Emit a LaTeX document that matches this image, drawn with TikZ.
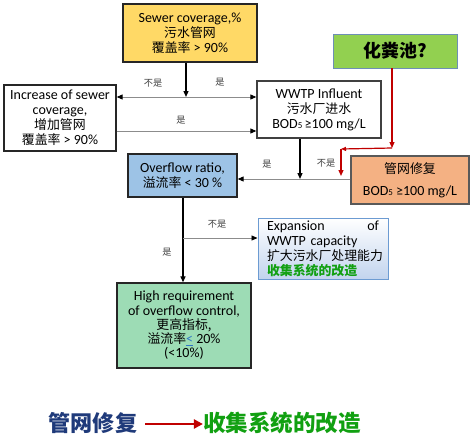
\documentclass[tikz,border=0pt]{standalone}
\usepackage{fontspec}
\setmainfont{Carlito}
\newfontfamily\cjk{Noto Sans CJK SC}[Scale=0.92]
\usetikzlibrary{arrows.meta}
\definecolor{cyellow}{HTML}{FFD966}
\definecolor{cgreenbox}{HTML}{92D050}
\definecolor{cgreenborder}{HTML}{6E8FB5}
\definecolor{corange}{HTML}{F4B183}
\definecolor{cblue}{HTML}{9DC3E6}
\definecolor{cmint}{HTML}{9DDCB5}
\definecolor{cexpborder}{HTML}{6C9BD2}
\definecolor{cexpbottom}{HTML}{C2D4EE}
\definecolor{cdarkblue}{HTML}{1F3A7A}
\definecolor{cgreentext}{HTML}{11A011}
\definecolor{cred}{HTML}{C00000}
\definecolor{clabel}{HTML}{404040}
\definecolor{clink}{HTML}{2E75C6}
\newcommand{\zh}[1]{{\cjk #1}}
\newcommand{\bodfive}{BOD{\fontsize{9}{9}\selectfont 5}}
\tikzset{
  box/.style={draw=black!85, line width=1.3pt, align=center, inner sep=2pt,
    font=\fontsize{14}{15}\selectfont},
  arr/.style={line width=1.2pt, black, -{Triangle[length=6pt,width=5pt]}},
  garr/.style={line width=0.9pt, black!45, -{Triangle[length=6pt,width=5pt,color=black]}},
  rarr/.style={line width=1.2pt, cred, -{Triangle[length=6pt,width=5pt]}},
  lbl/.style={font=\cjk\fontsize{10}{10}\selectfont, text=clabel, inner sep=0pt},
}
\begin{document}
\begin{tikzpicture}[x=1pt,y=-1pt]
\useasboundingbox (0,0) rectangle (472,437);

% boxes
\node[box, fill=cyellow, minimum width=134pt, minimum height=58pt] (sewer) at (190,33)
  {Sewer coverage,\%\\\zh{污水管网}\\\zh{覆盖率} > 90\%};
\node[box, fill=white, minimum width=112pt, minimum height=66pt] (inc) at (60,118)
  {Increase of sewer\\coverage,\\\zh{增加管网}\\\zh{覆盖率} > 90\%};
\node[box, fill=white, draw=black!75, minimum width=124pt, minimum height=57pt] (wwtp) at (319,109.5)
  {WWTP Influent\\\zh{污水厂进水}\\\bodfive\,≥100 mg/L};
\node[box, fill=cgreenbox, draw=cgreenborder, line width=0.9pt, minimum width=124pt, minimum height=34pt,
  font=\cjk\fontsize{19.5}{20}\selectfont\bfseries] (hfc) at (395,51) {化粪池?};
\node[box, fill=corange, draw=black!65, minimum width=118pt, minimum height=48pt] (gw) at (410,180)
  {\zh{管网修复}\\[7pt]\bodfive\ ≥100 mg/L};
\node[box, fill=cblue, minimum width=109pt, minimum height=43pt] (ovf) at (182.5,175.5)
  {Overflow ratio,\\\zh{溢流率} < 30 \%};
\node[box, draw=cexpborder, line width=1pt, top color=white, bottom color=cexpbottom,
  minimum width=130pt, minimum height=61pt, align=left, text width=112pt] (exp) at (323,248.5)
  {Expansion\hfill of\\WWTP capacity\\\zh{扩大污水厂处理能力}\\{\color{cgreentext}\cjk\bfseries 收集系统的改造}};
\node[box, fill=cmint, minimum width=134pt, minimum height=85pt,
  font=\fontsize{14}{14.3}\selectfont] (high) at (184,325.5)
  {High requirement\\of overflow control,\\\zh{更高指标,}\\\zh{溢流率}{\color{clink}\underline{<}} 20\%\\(<10\%)};

% junction coordinates
\coordinate (j1) at (186,97);
\coordinate (j2) at (186,131);
\coordinate (j3) at (300,179);
\coordinate (j4) at (183,238);
\coordinate (c1) at (392,148);
\coordinate (c2) at (341,149);
\coordinate (c3) at (341,176);

% connectors
\draw[garr, {Triangle[length=6pt,width=5pt,color=black]}-{Triangle[length=6pt,width=5pt,color=black]}]
  (inc.east |- j1) -- (wwtp.west |- j1);
\draw[arr] (sewer.south -| j1) -- (j1);
\draw[garr] (inc.east |- j2) -- (wwtp.west |- j2);
\draw[garr] (gw.west |- j3) -- (ovf.east |- j3);
\draw[arr] (wwtp.south -| j3) -- (j3);
\draw[rarr] (hfc.south -| c1) -- (c1);
\draw[rarr, -{Triangle[length=5pt,width=4pt]}] (c1) -- (c2);
\draw[rarr] (c2) -- (c3);
\draw[arr] (ovf.south -| j4) -- (high.north -| j4);
\draw[garr] (j4) -- (exp.west |- j4);

% labels
\node[lbl] (l1) at (153,83) {不是};
\node[lbl] (l2) at (220,82) {是};
\node[lbl] (l3) at (181,120) {是};
\node[lbl] (l4) at (267,164) {是};
\node[lbl] (l5) at (326,163) {不是};
\node[lbl] (l6) at (217,224) {不是};
\node[lbl] (l7) at (167,252) {是};

% bottom legend
\node[inner sep=0pt, font=\cjk\fontsize{24}{24}\selectfont\bfseries, text=cdarkblue] (lg1) at (93,423) {管网修复};
\node[inner sep=0pt, font=\cjk\fontsize{24.5}{24}\selectfont\bfseries, text=cgreentext] (lg2) at (282,423) {收集系统的改造};
\draw[line width=2.6pt, cred, -{Triangle[length=9pt,width=9pt]}] (lg1.east) ++(8,1) coordinate (a0) -- (lg2.west |- a0);
\end{tikzpicture}
\end{document}
